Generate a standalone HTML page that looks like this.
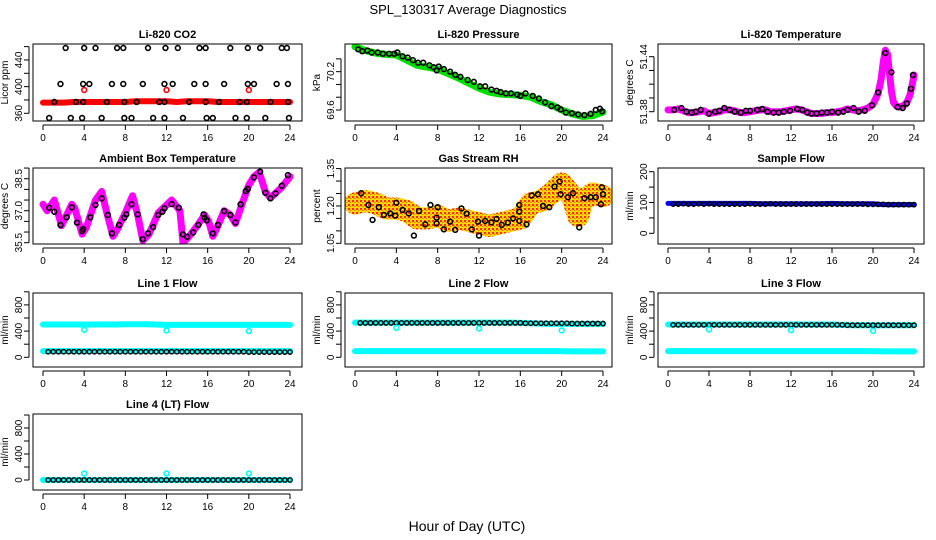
<!DOCTYPE html>
<html><head><meta charset="utf-8">
<style>
body{margin:0;background:#fff}
svg{display:block;font-family:"Liberation Sans",Arial,sans-serif}
.tt{font-size:11px;font-weight:bold;text-anchor:middle}
.tk{font-size:10px;text-anchor:middle}
</style></head>
<body>
<svg id="chart" width="936" height="540" viewBox="0 0 936 540">
<defs>
<pattern id="rhpat" width="4" height="4" patternUnits="userSpaceOnUse">
<rect width="4" height="4" fill="#ffd800"/><rect width="2" height="2" fill="#ff2a00"/><rect x="2" y="2" width="1" height="1" fill="#ff6000"/>
</pattern>
</defs>
<text x="468" y="14" font-size="13" text-anchor="middle">SPL_130317  Average Diagnostics</text>
<text x="467" y="531" font-size="14" text-anchor="middle">Hour of Day (UTC)</text>
</svg>
<script>
// ---------- data ----------
const xTicks=[0,4,8,12,16,20,24];
const co2RedHours=[0,1,2,3,4,5,6,7,8,9,10,11,12,13,14,15,16,17,18,19,20,21,22,23,24];
const co2Red=[376,376,376,377,377,377,377,377,377,378,378,378,378,377,378,378,378,377,377,377,377,377,377,377,377];
const co2RedOutHours=[4,12,20];
const co2RedOut=[395,395,395];
const co2BlackHours=[2.2,4.0,5.1,7.2,7.8,10.2,11.9,13.1,15.2,15.8,18.2,19.9,21.1,23.2,23.7,1.7,3.9,4.5,6.7,7.8,9.7,11.8,12.6,14.7,15.8,17.6,19.9,20.5,22.7,23.8,1.1,3.2,3.9,6.2,7.9,9.1,11.3,11.8,14.2,15.8,17.1,19.1,19.8,22.1,23.8,0.6,2.7,3.8,5.7,7.9,8.6,10.7,11.8,13.6,15.9,16.5,18.7,19.8,21.6,23.9];
const co2Black=[458,458,458,458,458,458,458,458,458,458,458,458,458,458,458,404,404,404,404,404,404,404,404,404,404,404,404,404,404,404,377,377,377,377,377,377,377,377,377,377,377,377,377,377,377,353,353,353,353,353,353,353,353,353,353,353,353,353,353,353];

const presHours=[0,1,2,3,4,5,6,7,8,9,10,11,12,13,14,15,16,17,18,19,20,21,22,23,24];
const presGreen=[70.59,70.53,70.49,70.47,70.46,70.38,70.30,70.27,70.24,70.17,70.10,70.02,69.94,69.88,69.85,69.84,69.83,69.80,69.73,69.68,69.60,69.54,69.50,69.51,69.57];
const presBlackHours=[0.3,0.7,1.2,1.6,2.2,2.7,3.3,3.8,4.1,4.6,5.1,5.6,6.1,6.6,7.2,7.6,7.9,8.1,8.6,9.2,9.7,10.2,10.9,11.5,12.1,12.6,13.2,13.7,14.1,14.6,15.1,15.7,16.0,16.5,17.2,17.8,18.4,19.0,19.6,19.9,20.4,21.0,21.6,22.2,22.8,23.3,23.7,23.9];
const presBlack=[70.55,70.52,70.53,70.50,70.50,70.48,70.48,70.48,70.50,70.44,70.42,70.38,70.34,70.34,70.30,70.27,70.22,70.28,70.24,70.20,70.15,70.12,70.07,70.04,69.97,69.97,69.92,69.90,69.88,69.86,69.86,69.84,69.82,69.86,69.82,69.78,69.72,69.66,69.64,69.61,69.56,69.55,69.53,69.52,69.54,69.60,69.62,69.58];

const tempHours=[0,0.5,1,1.5,2,2.5,3,3.5,4,4.5,5,5.5,6,6.5,7,7.5,8,8.5,9,9.5,10,10.5,11,11.5,12,12.5,13,13.5,14,14.5,15,15.5,16,16.5,17,17.5,18,18.5,19,19.5,20,20.5,20.8,21,21.2,21.4,21.6,21.8,22,22.3,22.6,23,23.3,23.6,23.8,24];
const tempMag=[51.382,51.382,51.383,51.381,51.379,51.379,51.380,51.381,51.378,51.379,51.380,51.382,51.382,51.381,51.379,51.379,51.380,51.381,51.382,51.382,51.380,51.380,51.380,51.381,51.382,51.383,51.382,51.380,51.378,51.378,51.378,51.379,51.379,51.380,51.381,51.383,51.382,51.381,51.382,51.384,51.388,51.400,51.416,51.434,51.447,51.443,51.423,51.402,51.390,51.386,51.385,51.387,51.390,51.398,51.408,51.420];
const tempBlackHours=[0.6,1.3,1.8,2.3,2.7,3.2,4.0,4.6,5.0,5.5,6.0,6.5,7.1,7.6,8.0,8.7,9.2,9.7,10.3,10.8,11.3,11.9,12.6,13.1,13.6,14.0,14.5,15.0,15.5,16.0,16.6,17.1,17.5,18.1,18.6,19.2,19.9,20.5,21.2,21.8,22.4,22.9,23.3,23.7,23.9];
const tempBlack=[51.382,51.384,51.380,51.379,51.380,51.382,51.378,51.380,51.381,51.384,51.382,51.380,51.379,51.381,51.381,51.382,51.383,51.380,51.379,51.379,51.380,51.381,51.383,51.382,51.379,51.378,51.378,51.379,51.379,51.380,51.379,51.380,51.382,51.384,51.380,51.381,51.387,51.401,51.444,51.423,51.385,51.384,51.389,51.405,51.420];

const ambHours=[0,0.4,1.1,1.8,2.2,2.8,3.1,3.8,4.2,5.1,5.7,6.2,6.8,7.3,8.0,8.7,9.2,9.7,10.3,11.2,12.5,13.3,13.6,14.2,15.0,15.7,16.1,16.5,17.0,17.6,18.2,18.7,19.4,20.0,20.5,21.0,21.6,22.1,23.2,24.0];
const ambMag=[37.3,37.0,37.5,36.3,36.7,37.3,37.1,35.9,36.2,37.5,37.9,36.9,35.8,36.2,36.9,37.7,36.8,35.6,35.9,36.9,37.5,37.0,35.5,35.8,36.3,36.8,36.5,35.8,36.3,37.0,36.8,36.4,37.4,38.2,38.6,38.8,37.9,37.6,38.1,38.6];
const ambBlackHours=[0.6,1.1,1.7,2.3,2.8,3.3,3.8,3.9,4.6,5.1,5.7,6.3,6.7,7.4,7.9,8.1,8.6,9.2,9.7,10.2,10.7,11.2,11.6,11.8,12.5,13.2,13.6,14.0,14.6,15.1,15.6,15.7,15.9,16.5,17.0,17.6,18.2,18.7,19.2,19.7,19.9,20.5,21.1,21.6,22.1,22.6,23.2,23.8];
const ambBlack=[37.14,36.95,36.33,36.69,37.16,36.44,36.05,36.14,36.69,37.27,37.58,36.80,35.94,36.33,36.67,36.83,37.30,36.83,35.67,35.94,36.23,36.80,36.95,37.11,37.31,37.14,35.89,35.78,35.98,36.33,36.83,36.67,36.55,35.94,36.33,36.98,36.80,36.45,37.30,37.92,38.02,38.56,38.83,37.84,37.58,37.81,38.17,38.67];

const rhHours=[0,1,2,3,4,5,6,7,8,9,10,11,12,13,14,15,16,17,18,19,20,21,21.6,22,23,24];
const rhCloud=[1.21,1.22,1.21,1.19,1.19,1.18,1.15,1.15,1.16,1.14,1.15,1.14,1.13,1.12,1.13,1.14,1.15,1.21,1.22,1.25,1.29,1.24,1.16,1.22,1.25,1.24];
const rhBlackHours=[0.6,1.3,1.7,2.3,2.8,3.4,3.9,4.0,4.6,5.2,5.7,6.2,6.8,7.3,7.9,7.9,8.0,8.6,9.2,9.7,10.3,10.8,11.3,11.9,12.0,12.6,13.2,13.7,14.2,14.8,15.3,15.9,15.9,15.9,16.6,17.1,17.7,18.2,18.8,19.3,19.8,19.9,20.6,21.1,21.7,22.2,22.8,23.3,23.8,23.9,24.0];
const rhBlack=[1.251,1.204,1.144,1.195,1.164,1.170,1.161,1.213,1.184,1.170,1.081,1.180,1.126,1.204,1.153,1.130,1.195,1.106,1.137,1.104,1.190,1.169,1.106,1.137,1.081,1.140,1.134,1.148,1.124,1.133,1.150,1.140,1.204,1.177,1.126,1.242,1.247,1.200,1.195,1.278,1.298,1.247,1.235,1.251,1.114,1.231,1.235,1.235,1.207,1.275,1.247];

const hourly=[0,1,2,3,4,5,6,7,8,9,10,11,12,13,14,15,16,17,18,19,20,21,22,23,24];
const halfHours=[0.5,1,1.5,2,2.5,3,3.5,4,4.5,5,5.5,6,6.5,7,7.5,8,8.5,9,9.5,10,10.5,11,11.5,12,12.5,13,13.5,14,14.5,15,15.5,16,16.5,17,17.5,18,18.5,19,19.5,20,20.5,21,21.5,22,22.5,23,23.5,24];
const sampleBlue=[97,97,97,97,97,97,97,97,97,96,96,96,96,96,96,96,97,96,96,96,96,93,93,93,93];
const sampleBlack=[95,95,96,95,95,96,95,96,95,95,95,95,95,95,95,96,95,95,95,96,95,95,95,95,95,95,95,95,95,95,95,95,95,95,95,95,95,95,94,94,94,94,93,93,93,93,93,93];

const flowOutHours=[4,12,20];
const line1High=[500,500,500,500,500,500,500,500,505,505,505,500,495,495,495,495,495,495,495,495,495,495,495,495,495];
const line1Low=[95,95,95,95,95,95,95,95,95,95,95,95,95,95,95,95,95,95,95,95,95,95,95,95,95];
const line1Black=[85,85,85,85,85,85,85,85,85,85,85,85,85,85,85,85,85,85,85,85,85,85,85,85,85,85,85,85,85,85,85,85,85,85,85,85,85,85,85,80,80,80,80,80,80,80,80,80];
const line1Out=[420,410,400];
const line2High=[530,530,530,530,530,530,530,530,530,530,530,530,530,530,530,530,525,520,515,510,510,510,510,510,510];
const line2Low=[95,95,95,95,95,95,95,95,95,95,95,95,95,95,95,95,95,95,95,95,95,90,90,90,90];
const line2Black=[525,525,525,525,525,525,525,525,525,525,525,525,525,525,525,525,525,525,525,525,525,525,525,525,525,525,525,525,525,525,525,525,520,520,520,520,520,520,520,520,520,515,515,515,515,515,515,515];
const line2Out=[450,440,410];
const line3High=[500,500,500,500,500,500,500,500,500,500,500,500,500,500,500,500,500,495,490,490,490,490,490,490,490];
const line3Low=[95,95,95,95,95,95,95,95,95,95,95,95,95,95,95,95,95,95,95,95,95,90,90,90,90];
const line3Black=[495,495,495,495,495,495,495,495,495,495,495,495,495,495,495,495,495,495,495,495,495,495,495,495,495,495,495,495,495,495,495,495,495,495,490,490,490,490,490,490,490,490,490,490,490,490,490,490];
const line3Out=[425,415,405];
const line4Cyan=[0,0,0,0,0,0,0,0,0,0,0,0,0,0,0,0,0,0,0,0,0,0,0,0,0];
const line4Black=[0,0,0,0,0,0,0,0,0,0,0,0,0,0,0,0,0,0,0,0,0,0,0,0,0,0,0,0,0,0,0,0,0,0,0,0,0,0,0,0,0,0,0,0,0,0,0,0];
const line4Out=[100,100,100];

// ---------- layout ----------
const svg=document.getElementById('chart');
const NS='http://www.w3.org/2000/svg';
const cols=[{bl:33,br:302,x0:43,x24:290},{bl:345,br:612,x0:355,x24:603},{bl:658,br:924,x0:668,x24:914}];
const rows=[{t:44,b:121},{t:168,b:244},{t:293,b:367},{t:414,b:490}];
function mk(tag,parent){const e=document.createElementNS(NS,tag);parent.appendChild(e);return e;}

function panel(name,title,ylab,r,c,vRef,yRef,k,ticks,labels){
  const C=cols[c],R=rows[r];
  const g=mk('g',svg);
  
  
  const sx=h=>C.x0+h*(C.x24-C.x0)/24;
  const sy=v=>yRef-(v-vRef)*k;
  const clipId='clip-'+name;
  const cp=mk('clipPath',g);cp.setAttribute('id',clipId);
  const cr=mk('rect',cp);cr.setAttribute('x',C.bl);cr.setAttribute('y',R.t);cr.setAttribute('width',C.br-C.bl);cr.setAttribute('height',R.b-R.t);
  const plot=mk('g',g);plot.setAttribute('clip-path','url(#'+clipId+')');
  
  
  const box=mk('rect',g);
  
  
  box.setAttribute('x',C.bl);box.setAttribute('y',R.t);box.setAttribute('width',C.br-C.bl);box.setAttribute('height',R.b-R.t);
  box.setAttribute('fill','none');box.setAttribute('stroke','#000');
  const t=mk('text',g);
  
  
  t.setAttribute('class','tt');t.setAttribute('x',(C.bl+C.br)/2);t.setAttribute('y',R.t-6);t.textContent=title;
  const yl=mk('text',g);
  
  
  const ylx=C.bl-25,yly=(R.t+R.b)/2;
  yl.setAttribute('x',ylx);yl.setAttribute('y',yly);yl.setAttribute('font-size','10');yl.setAttribute('text-anchor','middle');
  yl.setAttribute('transform','rotate(-90 '+ylx+' '+yly+')');yl.textContent=ylab;
  const xa=mk('line',g);
  
  
  xa.setAttribute('x1',sx(0));xa.setAttribute('x2',sx(24));xa.setAttribute('y1',R.b+4);xa.setAttribute('y2',R.b+4);xa.setAttribute('stroke','#000');
  xTicks.forEach(h=>{
    const l=mk('line',g);
    
    
    l.setAttribute('x1',sx(h));l.setAttribute('x2',sx(h));l.setAttribute('y1',R.b+4);l.setAttribute('y2',R.b+9);l.setAttribute('stroke','#000');
    const tx=mk('text',g);
    
    
    tx.setAttribute('class','tk');tx.setAttribute('x',sx(h));tx.setAttribute('y',R.b+20);tx.textContent=h;
  });
  const ya=mk('line',g);
  
  
  ya.setAttribute('x1',C.bl-4);ya.setAttribute('x2',C.bl-4);ya.setAttribute('y1',sy(ticks[0]));ya.setAttribute('y2',sy(ticks[ticks.length-1]));ya.setAttribute('stroke','#000');
  ticks.forEach(v=>{
    const l=mk('line',g);
    
    
    l.setAttribute('x1',C.bl-9);l.setAttribute('x2',C.bl-4);l.setAttribute('y1',sy(v));l.setAttribute('y2',sy(v));l.setAttribute('stroke','#000');
  });
  labels.forEach(lb=>{
    const tx=mk('text',g);
    
    
    const x=C.bl-14,y=sy(parseFloat(lb));
    tx.setAttribute('class','tk');tx.setAttribute('x',x);tx.setAttribute('y',y+3);
    tx.setAttribute('transform','rotate(-90 '+x+' '+y+')');tx.textContent=lb;
  });
  return {plot,sx,sy};
}
function thick(P,name,hours,vals,color,w){
  const pl=mk('polyline',P.plot);
  
  
  pl.setAttribute('points',hours.map((h,i)=>P.sx(h)+','+P.sy(vals[i])).join(' '));
  pl.setAttribute('fill','none');pl.setAttribute('stroke',color);pl.setAttribute('stroke-width',w);
  pl.setAttribute('stroke-linejoin','round');pl.setAttribute('stroke-linecap','round');
}
function pts(P,name,hours,vals,color,r,sw){
  hours.forEach((h,i)=>{
    const c=mk('circle',P.plot);
    
    
    c.setAttribute('cx',P.sx(h));c.setAttribute('cy',P.sy(vals[i]));c.setAttribute('r',r||2.4);
    c.setAttribute('fill','none');c.setAttribute('stroke',color);c.setAttribute('stroke-width',sw||1.6);
  });
}

let P;
P=panel('co2','Li-820 CO2','Licor ppm',0,0,360,113.3,0.6667,[360,380,400,420,440,460],['360','400','440']);
thick(P,'co2-red-series',co2RedHours,co2Red,'#ff0000',6);
pts(P,'co2-red-outlier',co2RedOutHours,co2RedOut,'#ff0000');
pts(P,'co2-black-point',co2BlackHours,co2Black,'#000');

P=panel('pressure','Li-820 Pressure','kPa',0,1,69.6,110,63.9,[69.6,69.8,70.0,70.2,70.4],['69.6','70.2']);
thick(P,'pressure-green-series',presHours,presGreen,'#00e000',7);
pts(P,'pressure-black-point',presBlackHours,presBlack,'#000');

P=panel('li820-temp','Li-820 Temperature','degrees C',0,2,51.38,111.7,917,[51.38,51.395,51.41,51.425,51.44],['51.38','51.44']);
thick(P,'temp-magenta-series',tempHours,tempMag,'#ff00ff',7);
pts(P,'temp-black-point',tempBlackHours,tempBlack,'#000');

P=panel('ambient','Ambient Box Temperature','degrees C',1,0,35.5,242.7,21.33,[35.5,36,36.5,37,37.5,38,38.5,39],['35.5','37.0','38.5']);
thick(P,'ambient-magenta-series',ambHours,ambMag,'#ff00ff',7);
pts(P,'ambient-black-point',ambBlackHours,ambBlack,'#000');

P=panel('rh','Gas Stream RH','percent',1,1,1.05,243.3,249,[1.05,1.10,1.15,1.20,1.25,1.30,1.35],['1.05','1.20','1.35']);
thick(P,'rh-orange-cloud',rhHours,rhCloud,'url(#rhpat)',22);
pts(P,'rh-black-point',rhBlackHours,rhBlack,'#000');

P=panel('sample-flow','Sample Flow','ml/min',1,2,0,233.3,0.308,[0,50,100,150,200],['0','100','200']);
thick(P,'sample-blue-series',hourly,sampleBlue,'#0000ff',5);
pts(P,'sample-black-point',halfHours,sampleBlack,'#000',2.2,1.4);

const flowTicks=[0,200,400,600,800,1000],flowLabels=['0','400','800'];
P=panel('line1','Line 1 Flow','ml/min',2,0,0,357.3,0.0655,flowTicks,flowLabels);
thick(P,'line1-cyan-high',hourly,line1High,'#00ffff',6);
thick(P,'line1-cyan-low',hourly,line1Low,'#00ffff',6);
pts(P,'line1-black-point',halfHours,line1Black,'#000',2.2,1.4);
pts(P,'line1-cyan-outlier',flowOutHours,line1Out,'#00ffff');

P=panel('line2','Line 2 Flow','ml/min',2,1,0,357.3,0.0655,flowTicks,flowLabels);
thick(P,'line2-cyan-high',hourly,line2High,'#00ffff',6);
thick(P,'line2-cyan-low',hourly,line2Low,'#00ffff',6);
pts(P,'line2-black-point',halfHours,line2Black,'#000',2.2,1.4);
pts(P,'line2-cyan-outlier',flowOutHours,line2Out,'#00ffff');

P=panel('line3','Line 3 Flow','ml/min',2,2,0,357.3,0.0655,flowTicks,flowLabels);
thick(P,'line3-cyan-high',hourly,line3High,'#00ffff',6);
thick(P,'line3-cyan-low',hourly,line3Low,'#00ffff',6);
pts(P,'line3-black-point',halfHours,line3Black,'#000',2.2,1.4);
pts(P,'line3-cyan-outlier',flowOutHours,line3Out,'#00ffff');

P=panel('line4','Line 4 (LT) Flow','ml/min',3,0,0,480,0.065,flowTicks,flowLabels);
thick(P,'line4-cyan-series',hourly,line4Cyan,'#00ffff',6);
pts(P,'line4-black-point',halfHours,line4Black,'#000',2.2,1.4);
pts(P,'line4-cyan-outlier',flowOutHours,line4Out,'#00ffff');
</script>
</body></html>
